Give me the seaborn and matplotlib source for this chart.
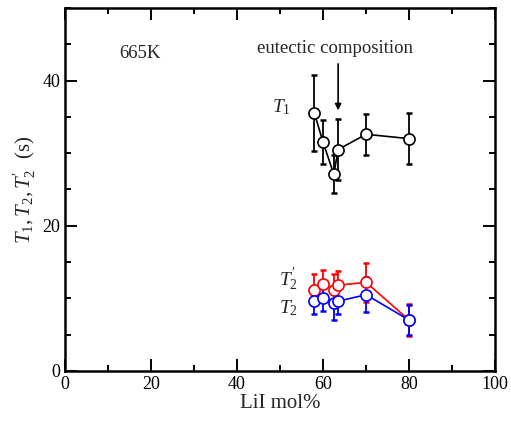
import matplotlib
matplotlib.use("Agg")
import matplotlib.pyplot as plt
from matplotlib.ticker import MultipleLocator
import seaborn as sns
import pandas as pd

# LiI content (mol%)
lii_mol = [58, 60, 62.5, 63.5, 70, 80]

# Relaxation times at 665 K (s) and their uncertainties
t1 = [35.5, 31.5, 27.1, 30.5, 32.6, 32.0]
t1_err = [5.2, 3.0, 2.6, 4.2, 2.8, 3.5]
t2p = [11.2, 12.0, 11.1, 11.8, 12.2, 7.0]
t2p_err = [2.1, 1.9, 2.3, 2.0, 2.7, 2.2]
t2 = [9.6, 10.0, 9.3, 9.6, 10.5, 7.0]
t2_err = [1.8, 1.8, 2.3, 1.8, 2.4, 2.1]

sns.set_style("ticks")
plt.rcParams["font.family"] = ["Liberation Serif", "DejaVu Serif"]
plt.rcParams["mathtext.fontset"] = "custom"
plt.rcParams["mathtext.rm"] = "Liberation Serif"
plt.rcParams["mathtext.it"] = "Liberation Serif:italic"
plt.rcParams["mathtext.bf"] = "Liberation Serif:bold"

df = pd.DataFrame({"x": lii_mol, "t1": t1, "t2p": t2p, "t2": t2})

fig = plt.figure(figsize=(5.11, 4.21), dpi=100)
ax = fig.add_axes([0.127, 0.119, 0.842, 0.862])

series = [
    ("t2p", t2p, t2p_err, "#ff0000"),
    ("t2", t2, t2_err, "#0000ff"),
    ("t1", t1, t1_err, "black"),
]
for col, vals, errs, color in series:
    ax.errorbar(lii_mol, vals, yerr=errs, fmt="none", ecolor=color,
                elinewidth=1.3, capsize=2.5, capthick=1.8, zorder=2)
    sns.lineplot(data=df, x="x", y=col, ax=ax, color=color, lw=1.2,
                 marker="o", markersize=8, markerfacecolor="white",
                 markeredgecolor=color, markeredgewidth=1.2, zorder=3)

ax.set_xlim(0, 100)
ax.set_ylim(0, 50)
ax.xaxis.set_major_locator(MultipleLocator(20))
ax.xaxis.set_minor_locator(MultipleLocator(10))
ax.yaxis.set_major_locator(MultipleLocator(20))
ax.yaxis.set_minor_locator(MultipleLocator(5))
ax.tick_params(which="both", direction="in", top=True, right=True,
               width=1.4, colors="black", labelsize=13)
ax.tick_params(which="major", length=8.5)
ax.tick_params(which="minor", length=4.3)
for s in ax.spines.values():
    s.set_visible(True)
    s.set_linewidth(1.8)
    s.set_color("black")

ax.set_xlabel("LiI mol%", fontsize=15, labelpad=1)
ax.set_ylabel(r"$T_{\mathit{1}},T_{\mathit{2}},T_{\mathit{2}}^{\prime}$  (s)",
              fontsize=15, labelpad=3)

ax.text(17.4, 43.7, "665K", fontsize=13.5, ha="center", va="center")
ax.text(62.8, 44.4, "eutectic composition", fontsize=13.5, ha="center", va="center")
ax.annotate("", xy=(63.5, 35.9), xytext=(63.5, 42.3),
            arrowprops=dict(arrowstyle="-|>", color="black", lw=1.2,
                            mutation_scale=9, shrinkA=0, shrinkB=0))
ax.text(50.4, 36.4, r"$T_{\mathit{1}}$", fontsize=14, ha="center", va="center")
ax.text(51.9, 12.6, r"$T_{\mathit{2}}^{\prime}$", fontsize=14, ha="center", va="center")
ax.text(51.9, 8.6, r"$T_{\mathit{2}}$", fontsize=14, ha="center", va="center")

fig.savefig("out.png", dpi=100)
